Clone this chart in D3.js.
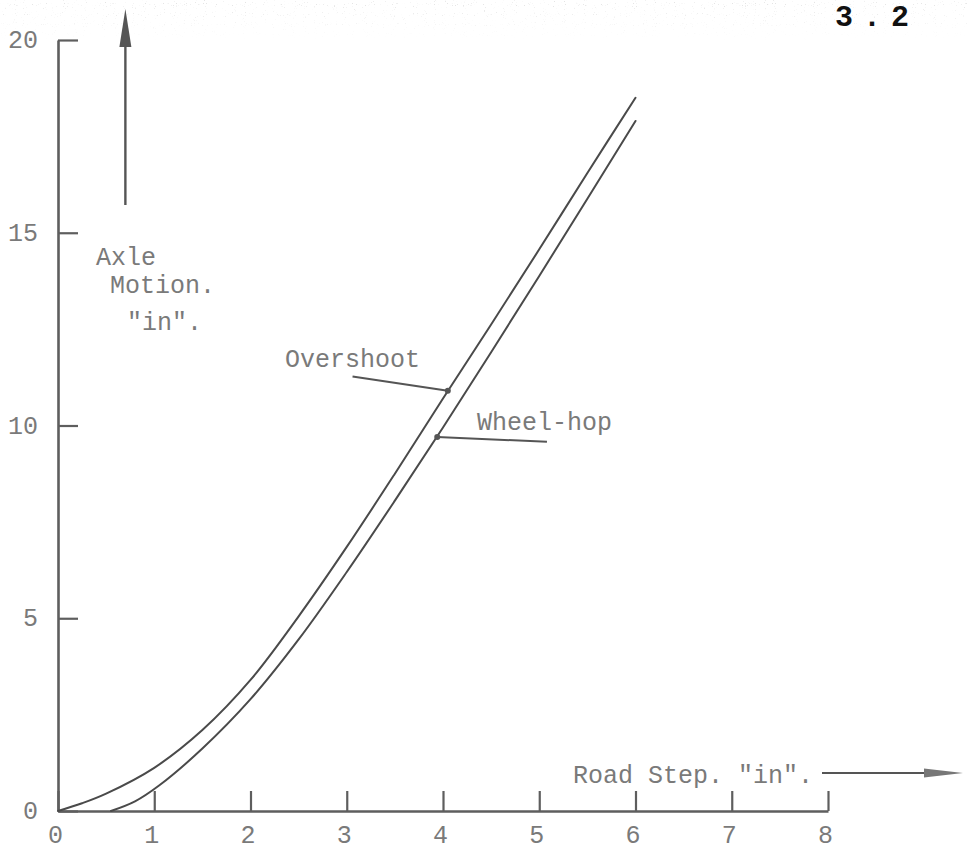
<!DOCTYPE html>
<html>
<head>
<meta charset="utf-8">
<script src="https://cdn.jsdelivr.net/npm/d3@7/dist/d3.min.js"></script>
<style>
  html, body { margin: 0; padding: 0; background: #ffffff; }
  svg { display: block; }
  .type { font-family: "Liberation Mono", "DejaVu Sans Mono", monospace; fill: #7a7a7a; }
</style>
</head>
<body>
<svg id="chart" width="967" height="850"></svg>
<script>
// Road step height (in) against axle motion (in)
const xTickValues = [0, 1, 2, 3, 4, 5, 6, 7, 8];
const yTickValues = [0, 5, 10, 15, 20];

// Overshoot curve
const overshootStep = [0, 0.25, 0.5, 1, 1.5, 2, 2.5, 3, 3.5, 4, 4.5, 5, 5.5, 6];
const overshootMotion = [0, 0.2, 0.45, 1.12, 2.1, 3.4, 5.05, 6.85, 8.75, 10.7, 12.62, 14.57, 16.55, 18.5];

// Wheel-hop curve
const wheelhopStep = [0.55, 0.8, 1.05, 1.5, 2, 2.5, 3, 3.5, 4, 4.5, 5, 5.5, 6];
const wheelhopMotion = [0, 0.25, 0.66, 1.62, 2.9, 4.45, 6.2, 8.05, 9.95, 11.9, 13.88, 15.88, 17.9];

// Leader lines: [from, to] in chart units
const overshootLeader = [[3.06, 11.27], [4.05, 10.9]];
const wheelhopLeader = [[3.94, 9.7], [5.08, 9.58]];

const svg = d3.select("#chart");
const x = d3.scaleLinear().domain([0, 8]).range([58, 828]);
const y = d3.scaleLinear().domain([0, 20]).range([811, 40]);

const inkAxis = "#5e5e5e";
const inkCurve = "#4a4a4a";

// Stippled paper band along the top edge
const defs = svg.append("defs");
const stip = defs.append("filter").attr("id", "stipple")
  .attr("x", 0).attr("y", 0).attr("width", 1).attr("height", 1);
stip.append("feTurbulence").attr("type", "fractalNoise")
  .attr("baseFrequency", 0.9).attr("numOctaves", 1).attr("seed", 7).attr("result", "n");
stip.append("feColorMatrix").attr("in", "n").attr("type", "matrix")
  .attr("values", "0 0 0 0 0.55  0 0 0 0 0.55  0 0 0 0 0.55  10 0 0 0 -6.6");
const fade = defs.append("linearGradient").attr("id", "fade")
  .attr("x1", 0).attr("y1", 0).attr("x2", 0).attr("y2", 1);
fade.append("stop").attr("offset", 0).attr("stop-color", "#fff").attr("stop-opacity", 1);
fade.append("stop").attr("offset", 1).attr("stop-color", "#fff").attr("stop-opacity", 0);
const fadeMask = defs.append("mask").attr("id", "fadeMask");
fadeMask.append("rect").attr("x", 0).attr("y", 0).attr("width", 967).attr("height", 40)
  .attr("fill", "url(#fade)");
svg.append("rect").attr("x", 0).attr("y", 0).attr("width", 967).attr("height", 40)
  .attr("filter", "url(#stipple)").attr("mask", "url(#fadeMask)").attr("opacity", 0.5);

// X axis: ticks standing up from the base line
const xAxis = svg.append("g")
  .attr("transform", `translate(0,${y(0)})`)
  .call(d3.axisBottom(x).tickValues(xTickValues).tickSizeInner(-20).tickSizeOuter(0).tickPadding(14)
    .tickFormat(d3.format("d")));

// Y axis: ticks pointing right from the axis line
const yAxis = svg.append("g")
  .attr("transform", `translate(${x(0)},0)`)
  .call(d3.axisLeft(y).tickValues(yTickValues).tickSizeInner(-20).tickSizeOuter(0).tickPadding(20)
    .tickFormat(d3.format("d")));

[xAxis, yAxis].forEach(g => {
  g.select(".domain").attr("stroke", inkAxis).attr("stroke-width", 2.6);
  g.selectAll(".tick line").attr("stroke", inkAxis).attr("stroke-width", 2.2);
  g.selectAll(".tick text")
    .attr("class", "type")
    .style("font-size", "25px")
    .attr("fill", "#7a7a7a");
});
xAxis.selectAll(".tick text").attr("dx", "-3px");
yAxis.selectAll(".tick text").attr("dy", "0.3em");

// Curves
const line = d3.line().x(d => x(d[0])).y(d => y(d[1])).curve(d3.curveCatmullRom.alpha(0.5));
const overshoot = overshootStep.map((s, i) => [s, overshootMotion[i]]);
const wheelhop = wheelhopStep.map((s, i) => [s, wheelhopMotion[i]]);

[overshoot, wheelhop].forEach(pts => {
  svg.append("path")
    .datum(pts)
    .attr("d", line)
    .attr("fill", "none")
    .attr("stroke", inkCurve)
    .attr("stroke-width", 2)
    .attr("stroke-linecap", "round");
});

// Leader lines with a dot where they touch the curve
const leader = d3.line().x(d => x(d[0])).y(d => y(d[1]));
svg.append("path").attr("d", leader(overshootLeader))
  .attr("stroke", "#555").attr("stroke-width", 2).attr("fill", "none");
svg.append("circle").attr("cx", x(overshootLeader[1][0])).attr("cy", y(overshootLeader[1][1]))
  .attr("r", 3).attr("fill", "#555");
svg.append("path").attr("d", leader(wheelhopLeader))
  .attr("stroke", "#555").attr("stroke-width", 2).attr("fill", "none");
svg.append("circle").attr("cx", x(wheelhopLeader[0][0])).attr("cy", y(wheelhopLeader[0][1]))
  .attr("r", 3).attr("fill", "#555");

// Typed labels
function typed(txt, px, py) {
  svg.append("text").attr("class", "type")
    .attr("x", px).attr("y", py)
    .style("font-size", "25px")
    .text(txt);
}
typed("Overshoot", 285, 367);
typed("Wheel-hop", 477, 430);
typed("Axle", 96, 265);
typed("Motion.", 110, 293);
typed("\"in\".", 127, 330);
typed("Road Step. \"in\".", 573, 783);

// Axis direction arrows
const arrowInk = "#555";
svg.append("line")
  .attr("x1", x(0.7)).attr("y1", 205)
  .attr("x2", x(0.7)).attr("y2", 30)
  .attr("stroke", arrowInk).attr("stroke-width", 2.4);
svg.append("path")
  .attr("d", `M${x(0.7)},9 L${x(0.7) - 6},47 L${x(0.7) + 6},47 Z`)
  .attr("fill", arrowInk);

svg.append("line")
  .attr("x1", 822).attr("y1", 773)
  .attr("x2", 935).attr("y2", 773)
  .attr("stroke", arrowInk).attr("stroke-width", 1.8);
svg.append("path")
  .attr("d", "M963,773 L924,768.5 L924,777.5 Z")
  .attr("fill", "#777");

// Figure number
svg.append("text")
  .attr("x", 835).attr("y", 26)
  .style("font-family", "\"Liberation Mono\", monospace")
  .style("font-weight", "bold")
  .style("font-size", "30px")
  .style("letter-spacing", "10px")
  .attr("fill", "#111")
  .text("3.2");
</script>
</body>
</html>
